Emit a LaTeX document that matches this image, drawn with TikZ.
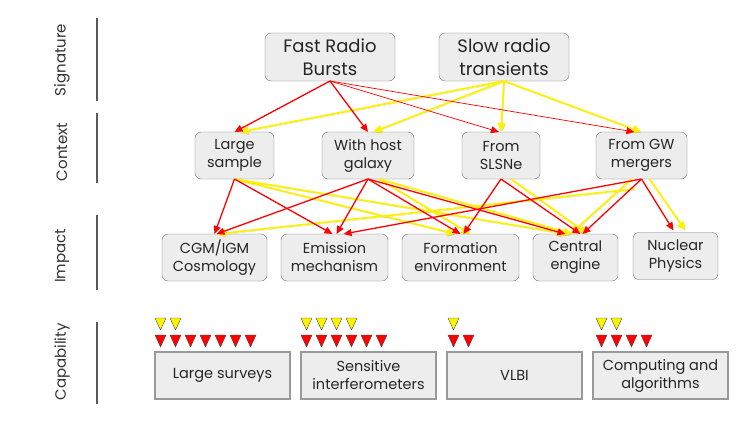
\documentclass[tikz,border=0pt]{standalone}
\usepackage{fontspec}
\setmainfont{Poppins}
\usepackage{tikz}
\usetikzlibrary{positioning,calc,arrows.meta}
\tikzset{sigbox/.style={draw=black!55, fill=black!7, rounded corners=6, align=center, inner sep=2pt, outer sep=0pt, minimum width=130pt, minimum height=48pt, text=black!85, font=\fontsize{18}{23}\selectfont}}
\tikzset{ctxbox/.style={sigbox, minimum height=47pt, font=\fontsize{14.5}{18}\selectfont}}
\tikzset{capbox/.style={draw=black!40, line width=1.2pt, fill=black!7, align=center, inner sep=2pt, outer sep=0pt, minimum width=135pt, minimum height=47pt, text=black!85, font=\fontsize{14.5}{18}\selectfont}}
\tikzset{rowlabel/.style={rotate=90, text=black!80, font=\fontsize{15}{18}\selectfont}}
\tikzset{rowbar/.style={draw=black!65, line width=1.3pt}}
\tikzset{redarr/.style={draw=red, line width=1.3pt, -{Triangle[length=8pt,width=7pt]}}}
\tikzset{redarr0/.style={redarr, line width=0.7pt}}
\tikzset{yelarr/.style={draw=yellow, line width=1.8pt, -{Triangle[length=9pt,width=8pt]},
    preaction={draw=black, opacity=0.15, transform canvas={shift={(0.8pt,-1.2pt)}}}}}
\tikzset{redtri/.style={draw=black!70, fill=red, line width=0.4pt}}
\tikzset{yeltri/.style={draw=black!70, fill=yellow, line width=0.4pt}}
% node, x offset, last yellow, last red
\newcommand{\capmarks}[4]{%
  \foreach \k in {0,...,#3}
    \draw[yeltri] ([xshift=#2+\k*15pt, yshift=34pt]#1.north west) -- ++(11pt,0) -- ++(-5.5pt,-12pt) -- cycle;
  \foreach \k in {0,...,#4}
    \draw[redtri] ([xshift=#2+\k*15pt, yshift=17pt]#1.north west) -- ++(11pt,0) -- ++(-5.5pt,-12pt) -- cycle;
}

\begin{document}
\begin{tikzpicture}[x=1pt, y=1pt]
    \useasboundingbox (0,0) rectangle (747,-421);
    % rows
    \node[rowlabel] (lsig) at (62,-60) {Signature};
    \node[rowlabel] (lctx) at (62,-152) {Context};
    \node[rowlabel] (limp) at (62,-256) {Impact};
    \node[rowlabel] (lcap) at (62,-362) {Capability};
    \draw[rowbar] (97,-18) -- (97,-101);
    \draw[rowbar] (97,-113) -- (97,-183);
    \draw[rowbar] (97,-215) -- (97,-290);
    \draw[rowbar] (97,-322) -- (97,-404);
    %
    \node[sigbox] (frb) at (330,-57) {Fast Radio\\Bursts};
    \node[sigbox, right=44pt of frb] (srt) {Slow radio\\transients};
    %
    \node[ctxbox, minimum width=79pt] (lsam) at (234.5,-155.5) {Large\\sample};
    \node[ctxbox, minimum width=92pt, right=48pt of lsam] (host) {With host\\galaxy};
    \node[ctxbox, minimum width=78pt, right=48pt of host] (slsne) {From\\SLSNe};
    \node[ctxbox, minimum width=91pt, right=56pt of slsne] (gwm) {From GW\\mergers};
    %
    \node[ctxbox, minimum width=105pt] (cgm) at (214.5,-257.5) {CGM/IGM\\Cosmology};
    \node[ctxbox, minimum width=107pt, right=14pt of cgm] (emis) {Emission\\mechanism};
    \node[ctxbox, minimum width=117pt, right=14pt of emis] (form) {Formation\\environment};
    \node[ctxbox, minimum width=85pt, right=14pt of form] (engine) {Central\\engine};
    \node[ctxbox, minimum width=85pt, right=15pt of engine, yshift=1.5pt] (nucl) {Nuclear\\Physics};
    %
    \node[capbox] (surv) at (222.5,-375.5) {Large surveys};
    \node[capbox, right=11pt of surv] (sens) {Sensitive\\interferometers};
    \node[capbox, right=11pt of sens] (vlbi) {VLBI};
    \node[capbox, right=11pt of vlbi] (comp) {Computing and\\algorithms};
    \capmarks{surv}{0pt}{1}{6}
    \capmarks{sens}{0pt}{3}{5}
    \capmarks{vlbi}{1pt}{0}{1}
    \capmarks{comp}{3pt}{1}{3}
    %
    \draw[yelarr] (srt.south) -- ([xshift=5pt]lsam.north);
    \draw[yelarr] (srt.south) -- ([xshift=5pt]host.north);
    \draw[yelarr] (srt.south) -- (slsne.north);
    \draw[yelarr] (srt.south) -- (gwm.north);
    \draw[redarr] (frb.south) -- (lsam.north);
    \draw[redarr] (frb.south) -- (host.north);
    \draw[redarr0] (frb.south) -- ([xshift=-2pt]slsne.north);
    \draw[redarr0] (frb.south) -- ([xshift=-7pt]gwm.north);
    %
    \draw[yelarr] (lsam.south) -- ([xshift=-5pt]form.north);
    \draw[yelarr] (lsam.south) -- ([xshift=-8pt]engine.north);
    \draw[yelarr] ([xshift=11pt]host.south) -- ([xshift=10pt]form.north);
    \draw[yelarr] ([xshift=11pt]host.south) -- ([xshift=-3pt]engine.north);
    \draw[yelarr] ([xshift=10pt]slsne.south) -- ([xshift=12pt]engine.north);
    \draw[yelarr] ([xshift=-7pt, yshift=-10pt]gwm.south) -- ([xshift=2pt]cgm.north);
    \draw[yelarr] ([xshift=-10pt]gwm.south) -- ([xshift=-5pt]engine.north);
    \draw[yelarr] ([xshift=8pt]gwm.south) -- ([xshift=10pt, yshift=2pt]nucl.north);
    \draw[redarr] (lsam.south) -- (cgm.north);
    \draw[redarr] (lsam.south) -- ([xshift=-2pt]emis.north);
    \draw[redarr] (host.south) -- ([xshift=2pt]cgm.north);
    \draw[redarr] (host.south) -- ([xshift=2pt]emis.north);
    \draw[redarr] (host.south) -- (form.north);
    \draw[redarr] (host.south) -- ([xshift=-10pt]engine.north);
    \draw[redarr] (slsne.south) -- ([xshift=3pt]form.north);
    \draw[redarr] (slsne.south) -- ([xshift=5pt]engine.north);
    \draw[redarr] (gwm.south) -- ([xshift=9pt]emis.north);
    \draw[redarr] (gwm.south) -- ([xshift=7pt]engine.north);
    \draw[redarr] (gwm.south) -- ([xshift=-2pt, yshift=2pt]nucl.north);
\end{tikzpicture}
\end{document}
